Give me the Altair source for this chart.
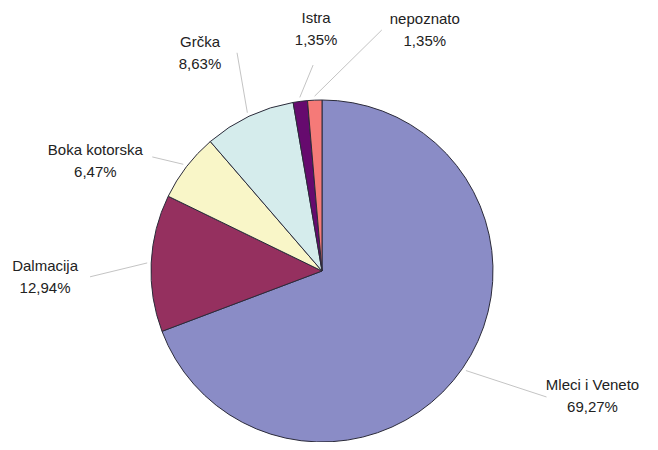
import math
import altair as alt
import pandas as pd

# ---- data ----
regions = ["Mleci i Veneto", "Dalmacija", "Boka kotorska", "Grčka", "Istra", "nepoznato"]
shares = [69.27, 12.94, 6.47, 8.63, 1.35, 1.35]
colors = ["#8a8cc6", "#95305f", "#f9f6c8", "#d5ecec", "#660a6e", "#f57a78"]

# ---- layout (pixels, chart coordinates) ----
W, H = 642, 434
CX, CY, R = 314, 263, 171
LINE_H = 22
# label placement: (angle clockwise from top in degrees, distance from centre)
label_polar = [(114.8, 298), (268.8, 277), (295.9, 252), (330.8, 250), (358.6, 242), (23.1, 262)]
# leader line end, relative to the label centre
leader_off = [(-46, 1), (45, 0), (57, -4), (37, 0), (-3, 36), (-43, 0)]

total = sum(shares)
rows = []
cum = 0.0
for i, (name, v) in enumerate(zip(regions, shares)):
    mid = (cum + v / 2) / total * 2 * math.pi
    cum += v
    a, d = label_polar[i]
    ar = math.radians(a)
    lx = CX + d * math.sin(ar)
    ly = CY - d * math.cos(ar)
    rows.append({
        "region": name,
        "share": v,
        "order": i,
        "label": f"{name}\n{v:.2f}".replace(".", ",") + "%",
        "sx": CX + (R + 4) * math.sin(mid),
        "sy": CY - (R + 4) * math.cos(mid),
        "ex": lx + leader_off[i][0],
        "ey": ly + leader_off[i][1],
        "lx": lx,
        "ly": ly,
    })
df = pd.DataFrame(rows)

base = alt.Chart(df)

pie = base.mark_arc(radius=R, stroke="#2b2b3a", strokeWidth=1).encode(
    theta=alt.Theta("share:Q", stack=True),
    order=alt.Order("order:Q"),
    color=alt.Color("region:N", scale=alt.Scale(domain=regions, range=colors), legend=None),
    x=alt.value(CX),
    y=alt.value(CY),
)

leaders = base.mark_rule(color="#c4c4c4", strokeWidth=1).encode(
    x=alt.X("sx:Q", scale=None),
    y=alt.Y("sy:Q", scale=None),
    x2="ex:Q",
    y2="ey:Q",
)

labels = base.mark_text(
    font="Liberation Sans", fontSize=15, lineHeight=LINE_H, lineBreak="\n",
    align="center", baseline="middle", color="#222222", dy=-LINE_H / 2,
).encode(
    x=alt.X("lx:Q", scale=None),
    y=alt.Y("ly:Q", scale=None),
    text="label:N",
)

chart = alt.layer(leaders, pie, labels).properties(
    width=W, height=H, autosize=alt.AutoSizeParams(type="none"), padding=0,
    background="white",
).configure_view(stroke=None, strokeWidth=0)

chart.save("out.html", embed_options={"renderer": "svg", "actions": False})
